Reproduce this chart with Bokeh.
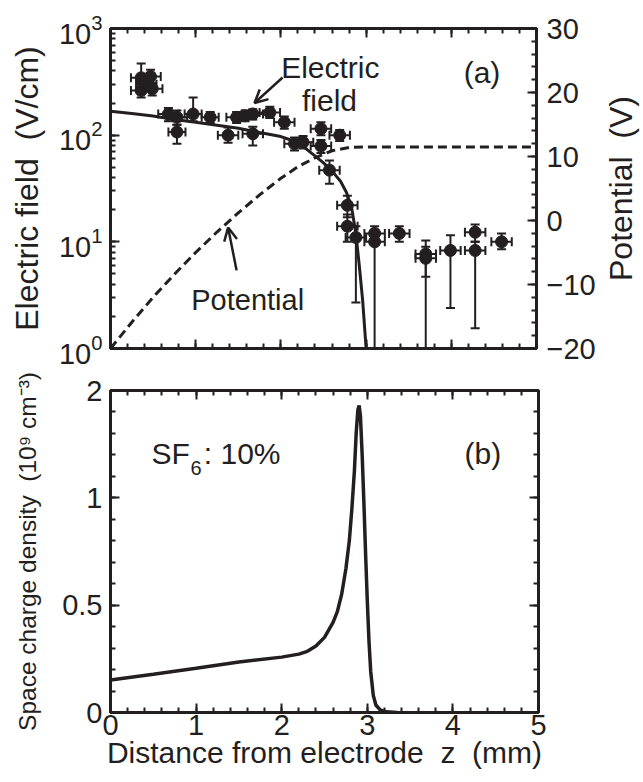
import numpy as np
from bokeh.plotting import figure
from bokeh.models import (Range1d, LinearAxis, Whisker, TeeHead, Arrow, OpenHead, Label,
                          CustomJSTickFormatter, ColumnDataSource, LogTicker, LinearScale,
                          SingleIntervalTicker, FixedTicker)
from bokeh.layouts import column, row
from bokeh.embed import file_html
from bokeh.resources import INLINE

# ---------------- data : panel (a) ----------------
field_z = [0.0, 0.25, 0.5, 0.75, 1.0, 1.25, 1.5, 1.75, 2.0, 2.1, 2.2, 2.3, 2.4, 2.5,
           2.6, 2.7, 2.77, 2.83, 2.88, 2.92, 2.96, 2.99, 3.02]
field_E = [168, 160, 151, 140, 132, 124, 116, 106, 97, 91, 84, 74, 64, 55,
           46, 37, 29, 21, 12, 6.0, 2.8, 1.3, 0.6]

pot_z = [0.0, 0.25, 0.5, 0.75, 1.0, 1.25, 1.5, 1.75, 2.0, 2.2, 2.4, 2.6, 2.8, 3.0, 5.0]
pot_V = [-20.0, -15.9, -12.0, -8.4, -5.0, -1.8, 1.2, 4.0, 6.6, 8.4, 9.8, 10.9, 11.4, 11.5, 11.5]

meas_z = [0.36, 0.47, 0.36, 0.49, 0.42, 0.68, 0.78, 0.78, 0.97, 1.17, 1.38, 1.48,
          1.58, 1.67, 1.67, 1.87, 2.04, 2.16, 2.26, 2.47, 2.47, 2.69, 2.57, 2.78,
          2.78, 2.88, 3.10, 3.10, 3.39, 3.70, 3.70, 3.99, 4.28, 4.28, 4.59]
meas_E = [345, 355, 262, 272, 300, 158, 147, 107, 158, 147, 100, 147,
          152, 103, 158, 163, 132, 83, 86, 115, 79, 100, 47, 22,
          14, 11, 12, 10, 12, 7.7, 7.0, 8.3, 12.3, 8.3, 10]
meas_dz = [0.12, 0.12, 0.12, 0.12, 0.12, 0.12, 0.12, 0.10, 0.10, 0.10, 0.12, 0.12,
           0.12, 0.12, 0.12, 0.12, 0.12, 0.12, 0.12, 0.12, 0.12, 0.12, 0.12, 0.12,
           0.12, 0.12, 0.12, 0.12, 0.12, 0.12, 0.12, 0.12, 0.12, 0.12, 0.12]
meas_lo = [300, 300, 225, 235, 260, 135, 125, 83, 135, 130, 85, 130,
           135, 80, 140, 145, 115, 72, 75, 100, 68, 88, 35, 17,
           10, 2.7, 10, 0, 10, 4.7, 0, 2.4, 10, 1.55, 8.5]
meas_hi = [470, 410, 300, 310, 340, 180, 170, 125, 225, 165, 118, 165,
           170, 120, 175, 185, 150, 95, 98, 132, 90, 112, 58, 27,
           18, 14, 14, 13, 14, 10.3, 9, 11.5, 14.5, 10, 12]

# ---------------- data : panel (b) ----------------
rho_z = [0.0, 0.5, 1.0, 1.5, 2.0, 2.2, 2.3, 2.4, 2.5, 2.6, 2.65, 2.7, 2.75, 2.79,
         2.82, 2.85, 2.87, 2.89, 2.905, 2.92, 2.94, 2.96, 2.98, 3.0, 3.02, 3.04,
         3.07, 3.1, 3.15, 3.22, 3.35]
rho_n = [0.151, 0.178, 0.206, 0.235, 0.258, 0.272, 0.285, 0.31, 0.35, 0.42, 0.47,
         0.55, 0.67, 0.8, 0.95, 1.13, 1.3, 1.41, 1.43, 1.38, 1.2, 0.98, 0.74, 0.52,
         0.33, 0.19, 0.08, 0.035, 0.012, 0.003, 0.0]
rho_tick_values = [0, 0.5, 1, 1.5]
rho_tick_labels = ["0", "0.5", "1", "2"]

FONT = "Liberation Sans"
INK = "#231f20"
TICK_FS = "29px"
NB = "\u00a0"


def style_axis(ax, labels=True, title_fs="30px"):
    ax.axis_line_color = None
    ax.major_tick_in = 9
    ax.major_tick_out = 0
    ax.minor_tick_in = 5
    ax.minor_tick_out = 0
    ax.major_tick_line_width = 2
    ax.minor_tick_line_width = 2
    ax.major_tick_line_color = INK
    ax.minor_tick_line_color = INK
    ax.major_label_text_font = FONT
    ax.major_label_text_font_size = TICK_FS
    ax.major_label_text_color = INK
    ax.axis_label_text_font = FONT
    ax.axis_label_text_font_size = title_fs
    ax.axis_label_text_font_style = "normal"
    ax.axis_label_text_color = INK
    if not labels:
        ax.formatter = CustomJSTickFormatter(code="return ''")
        ax.major_label_text_font_size = "0px"
        ax.major_label_standoff = 0


def style_fig(p):
    p.outline_line_color = INK
    p.outline_line_width = 3
    p.outline_line_alpha = 1
    p.xgrid.visible = False
    p.ygrid.visible = False
    p.background_fill_color = "white"
    p.border_fill_color = "white"


H1 = 372
H2 = 408
TOP1, BOT1 = 28, 24

# ================= panel (a) =================
p1 = figure(width=598, height=H1, x_range=Range1d(0, 5), y_range=Range1d(1, 1000),
            y_axis_type="log", output_backend="svg", toolbar_location=None,
            min_border_left=110, min_border_right=60, min_border_top=TOP1,
            min_border_bottom=BOT1)
style_fig(p1)
p1.extra_y_ranges = {"pot": Range1d(-20, 30)}
p1.extra_y_scales = {"pot": LinearScale()}

p1.xaxis.ticker = SingleIntervalTicker(interval=1, num_minor_ticks=5)
style_axis(p1.xaxis[0], labels=False)

p1.yaxis.ticker = LogTicker(num_minor_ticks=10)
style_axis(p1.yaxis[0], title_fs="32px")
p1.yaxis.axis_label = "Electric field" + NB + NB + "(V/cm)"
p1.yaxis.major_label_standoff = 8
p1.yaxis.axis_label_standoff = 11

top1 = LinearAxis(ticker=SingleIntervalTicker(interval=1, num_minor_ticks=5))
style_axis(top1, labels=False)
p1.add_layout(top1, "above")

pot_axis = LinearAxis(y_range_name="pot",
                      ticker=SingleIntervalTicker(interval=10, num_minor_ticks=5))
style_axis(pot_axis)
pot_axis.major_label_standoff = 10
p1.add_layout(pot_axis, "right")

# curves
p1.line(pot_z, pot_V, y_range_name="pot", line_color=INK, line_width=3, line_dash="9 5")
p1.line(field_z, field_E, line_color=INK, line_width=3)

# measured points with error bars
mz = np.array(meas_z)
mE = np.array(meas_E)
mdz = np.array(meas_dz)
mlo = np.array(meas_lo, dtype=float)
mhi = np.array(meas_hi, dtype=float)
closed = mlo >= 1
src_closed = ColumnDataSource(dict(z=mz[closed], lo=mlo[closed], hi=mhi[closed]))
src_open = ColumnDataSource(dict(z=mz[~closed], lo=np.full((~closed).sum(), 1.0), hi=mhi[~closed]))
src_x = ColumnDataSource(dict(E=mE, zlo=mz - mdz, zhi=mz + mdz))


def tee():
    return TeeHead(size=9, line_width=2, line_color=INK)


p1.add_layout(Whisker(source=src_closed, base="z", lower="lo", upper="hi", dimension="height",
                      line_width=2, line_color=INK, upper_head=tee(), lower_head=tee()))
p1.add_layout(Whisker(source=src_open, base="z", lower="lo", upper="hi", dimension="height",
                      line_width=2, line_color=INK, upper_head=tee(), lower_head=None))
p1.add_layout(Whisker(source=src_x, base="E", lower="zlo", upper="zhi", dimension="width",
                      line_width=2, line_color=INK, upper_head=tee(), lower_head=tee()))
p1.scatter(mz, mE, size=12, color=INK)

# annotations
p1.add_layout(Label(x=2.58, y=431, text="Electric", text_align="center",
                    text_baseline="alphabetic", text_font=FONT, text_font_size="30px",
                    text_color=INK))
p1.add_layout(Label(x=2.57, y=211, text="field", text_align="center",
                    text_baseline="alphabetic", text_font=FONT, text_font_size="30px",
                    text_color=INK))
p1.add_layout(Arrow(x_start=2.02, y_start=347, x_end=1.69, y_end=200, line_width=2.5,
                    line_color=INK, end=OpenHead(size=13, line_width=2.5, line_color=INK)))
p1.add_layout(Label(x=1.61, y=2.83, text="Potential", text_align="center",
                    text_baseline="alphabetic", text_font=FONT, text_font_size="29px",
                    text_color=INK))
p1.add_layout(Arrow(x_start=1.48, y_start=5.4, x_end=1.38, y_end=13.6, line_width=2.5,
                    line_color=INK, end=OpenHead(size=13, line_width=2.5, line_color=INK)))
p1.add_layout(Label(x=4.36, y=387, text="(a)", text_align="center",
                    text_baseline="alphabetic", text_font=FONT, text_font_size="30px",
                    text_color=INK))

# narrow strip to the right of panel (a) carrying the rotated "Potential (V)" title
strip = figure(width=43, height=H1, x_range=Range1d(0, 1), y_range=Range1d(0, 1),
               output_backend="svg", toolbar_location=None, title=None,
               x_axis_location=None, y_axis_location=None,
               min_border_left=0, min_border_right=0, min_border_top=TOP1,
               min_border_bottom=BOT1)
strip.outline_line_color = None
strip.grid.visible = False
strip.background_fill_color = "white"
strip.border_fill_color = "white"
strip.add_layout(Label(x=22, y=(H1 - BOT1) - 188, x_units="screen", y_units="screen",
                       text="Potential" + NB + NB + "(V)", angle=np.pi / 2,
                       text_align="center", text_baseline="middle",
                       text_font=FONT, text_font_size="32px", text_color=INK))

# ================= panel (b) =================
p2 = figure(width=641, height=H2, x_range=Range1d(0, 5), y_range=Range1d(0, 1.5),
            output_backend="svg", toolbar_location=None,
            min_border_left=110, min_border_right=103, min_border_top=18, min_border_bottom=68)
style_fig(p2)

p2.xaxis.ticker = SingleIntervalTicker(interval=1, num_minor_ticks=5)
style_axis(p2.xaxis[0], title_fs="30px")
p2.xaxis.axis_label = "Distance from electrode" + NB + NB + "z" + NB + NB + "(mm)"
p2.xaxis.major_label_standoff = 2
p2.xaxis.axis_label_standoff = -2

rho_minor = list(np.round(np.arange(0, 1.51, 0.1), 2))
p2.yaxis.ticker = FixedTicker(ticks=rho_tick_values, minor_ticks=rho_minor)
style_axis(p2.yaxis[0], title_fs="24.5px")
p2.yaxis.major_label_overrides = dict(zip(rho_tick_values, rho_tick_labels))
p2.yaxis.major_label_standoff = 8
p2.yaxis.axis_label = "Space charge density" + NB + NB + "(10\u2079 cm\u207b\u00b3)"
p2.yaxis.axis_label_standoff = 18

top2 = LinearAxis(ticker=SingleIntervalTicker(interval=1, num_minor_ticks=5))
style_axis(top2, labels=False)
p2.add_layout(top2, "above")
right2 = LinearAxis(ticker=FixedTicker(ticks=rho_tick_values, minor_ticks=rho_minor))
style_axis(right2, labels=False)
p2.add_layout(right2, "right")

p2.line(rho_z, rho_n, line_color=INK, line_width=3.5)

p2.add_layout(Label(x=0.48, y=1.206, text="SF", text_align="left", text_baseline="alphabetic",
                    text_font=FONT, text_font_size="30px", text_color=INK))
p2.add_layout(Label(x=0.935, y=1.14, text="6", text_align="left", text_baseline="alphabetic",
                    text_font=FONT, text_font_size="20px", text_color=INK))
p2.add_layout(Label(x=1.09, y=1.206, text=": 10%", text_align="left", text_baseline="alphabetic",
                    text_font=FONT, text_font_size="30px", text_color=INK))
p2.add_layout(Label(x=4.35, y=1.206, text="(b)", text_align="center", text_baseline="alphabetic",
                    text_font=FONT, text_font_size="30px", text_color=INK))

layout = column(row(p1, strip), p2)
open("out.html", "w").write(file_html(layout, INLINE))
